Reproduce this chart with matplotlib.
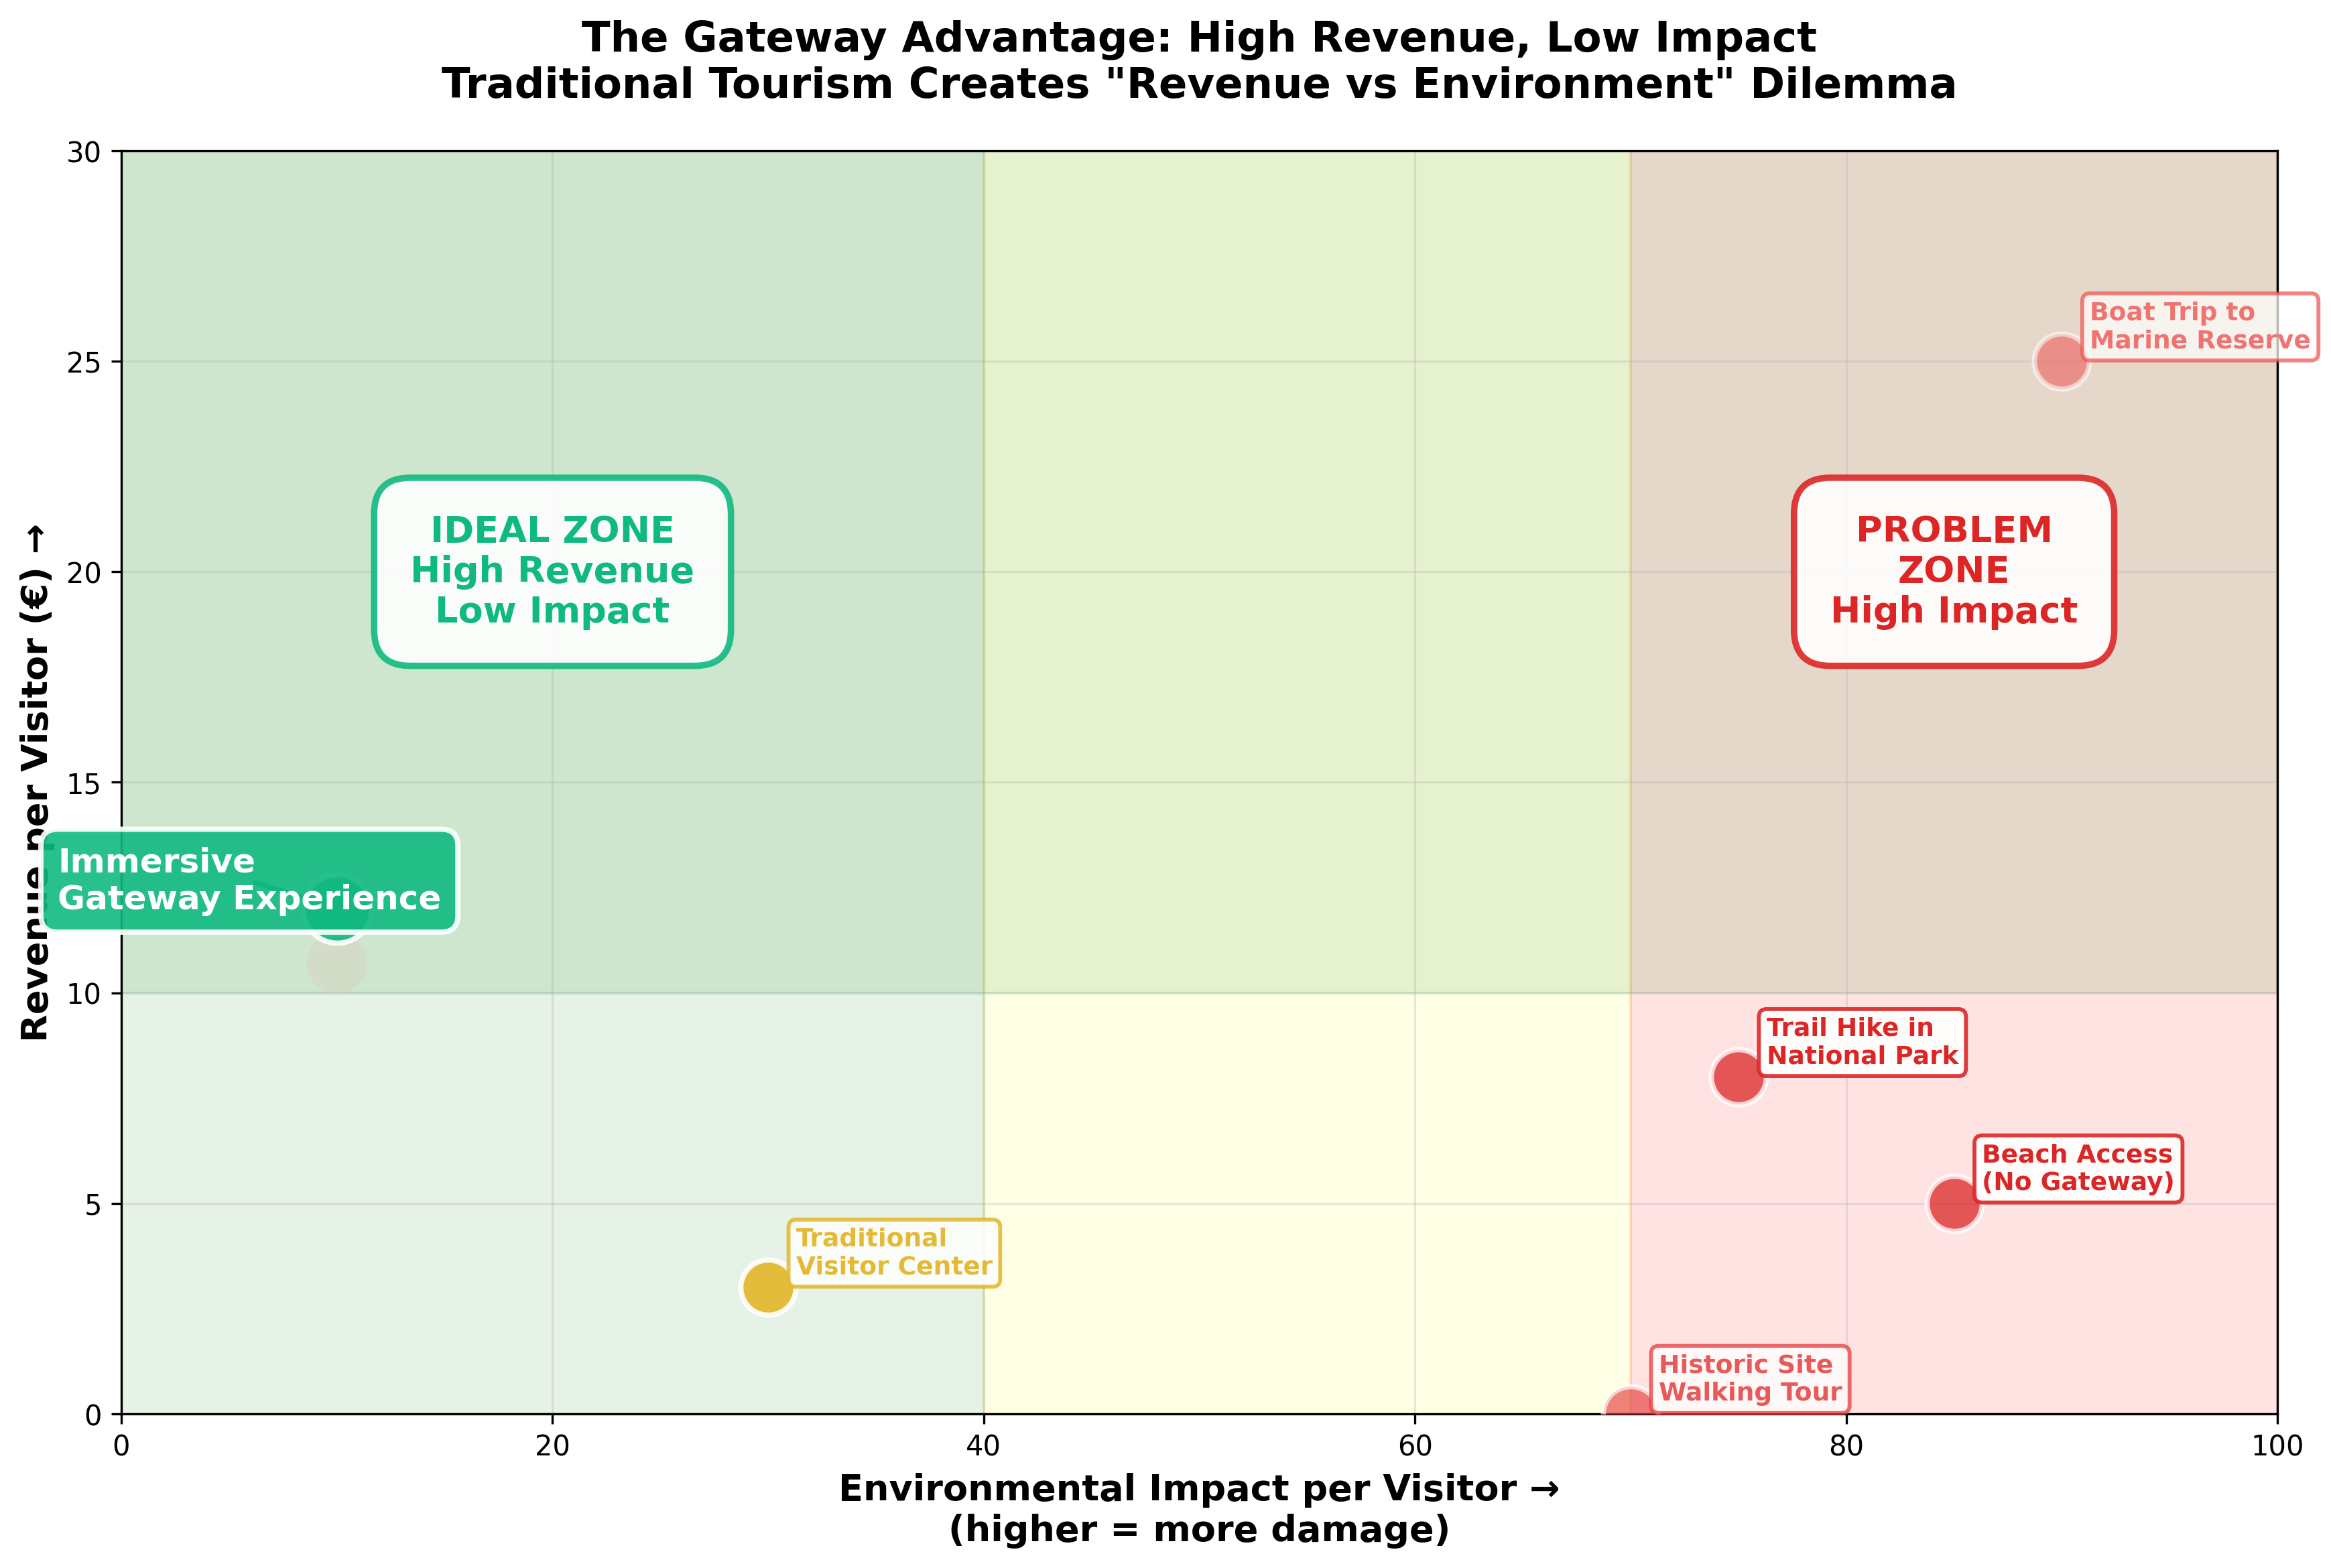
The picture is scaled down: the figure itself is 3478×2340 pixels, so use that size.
import matplotlib.pyplot as plt
from matplotlib.patches import Rectangle

# experiences: impact per visitor, revenue per visitor
names = ["Immersive\nGateway Experience", "Traditional\nVisitor Center",
         "Trail Hike in\nNational Park", "Beach Access\n(No Gateway)",
         "Historic Site\nWalking Tour", "Boat Trip to\nMarine Reserve"]
impact = [10, 30, 75, 85, 70, 90]
revenue = [12, 3, 8, 5, 0, 25]
colors = ["#10b981", "#e3b62a", "#dc2626", "#dc2626", "#e53e3e", "#ef5350"]
alphas = [0.9, 0.9, 0.75, 0.75, 0.65, 0.55]
label_alpha = [0.9, 0.95, 1.0, 1.0, 0.85, 0.8]

fig, ax = plt.subplots(figsize=(11.85, 7.92))

# zones
ax.axvspan(0, 40, color="green", alpha=0.1, zorder=0)
ax.axvspan(40, 70, color="yellow", alpha=0.1, zorder=0)
ax.axvspan(70, 100, color="red", alpha=0.11, zorder=0)
ax.axhspan(10, 30, color="green", alpha=0.1, zorder=0)

# faded shadow under the gateway point
ghost = ax.scatter([10], [10.7], s=460, color="#d8d4c0", alpha=0.5, zorder=1, edgecolors="none")
ghost.set_clip_path(Rectangle((0, 10), 100, 20, transform=ax.transData))

for i in range(len(names)):
    size = 600 if i == 0 else 390
    ax.scatter(impact[i], revenue[i], s=size, color=colors[i], alpha=alphas[i],
               edgecolors="white", linewidths=1.9, zorder=3)
    if i == 0:
        ax.annotate(names[i], (impact[i], revenue[i]), xytext=(-100, 10),
                    textcoords="offset points", ha="left", va="center",
                    fontsize=12, fontweight="bold", color="white", zorder=4,
                    bbox=dict(boxstyle="round,pad=0.5", facecolor="#10b981",
                              edgecolor="white", linewidth=1.9, alpha=0.9),
                    arrowprops=dict(arrowstyle="->", color="#10b981", lw=1.9))
    else:
        ax.annotate(names[i], (impact[i], revenue[i]), xytext=(10, 3),
                    textcoords="offset points", ha="left", va="bottom",
                    fontsize=9, fontweight="bold", color=colors[i], alpha=label_alpha[i],
                    zorder=4,
                    bbox=dict(boxstyle="round,pad=0.3", facecolor="white",
                              edgecolor=colors[i], linewidth=1.4, alpha=0.9 * label_alpha[i]))

ax.text(20, 20, "IDEAL ZONE\nHigh Revenue\nLow Impact", ha="center", va="center",
        fontsize=13, fontweight="bold", color="#10b981",
        bbox=dict(boxstyle="round,pad=1", facecolor="white", edgecolor="#10b981",
                  linewidth=2.3, alpha=0.9))
ax.text(85, 20, "PROBLEM\nZONE\nHigh Impact", ha="center", va="center",
        fontsize=13, fontweight="bold", color="#dc2626",
        bbox=dict(boxstyle="round,pad=1", facecolor="white", edgecolor="#dc2626",
                  linewidth=2.3, alpha=0.9))

ax.set_xlim(0, 100)
ax.set_ylim(0, 30)
ax.set_xlabel("Environmental Impact per Visitor →\n(higher = more damage)",
              fontsize=13, fontweight="bold")
ax.set_ylabel("Revenue per Visitor (€) →", fontsize=13, fontweight="bold")
ax.set_title('The Gateway Advantage: High Revenue, Low Impact\n'
             'Traditional Tourism Creates "Revenue vs Environment" Dilemma',
             fontsize=15, fontweight="bold", pad=19)
ax.tick_params(labelsize=10, width=0.8, length=3.5)
for s in ax.spines.values():
    s.set_linewidth(0.8)
ax.grid(True, alpha=0.3, linewidth=0.75)

plt.tight_layout()
plt.savefig("out.png", dpi=300, bbox_inches="tight")
